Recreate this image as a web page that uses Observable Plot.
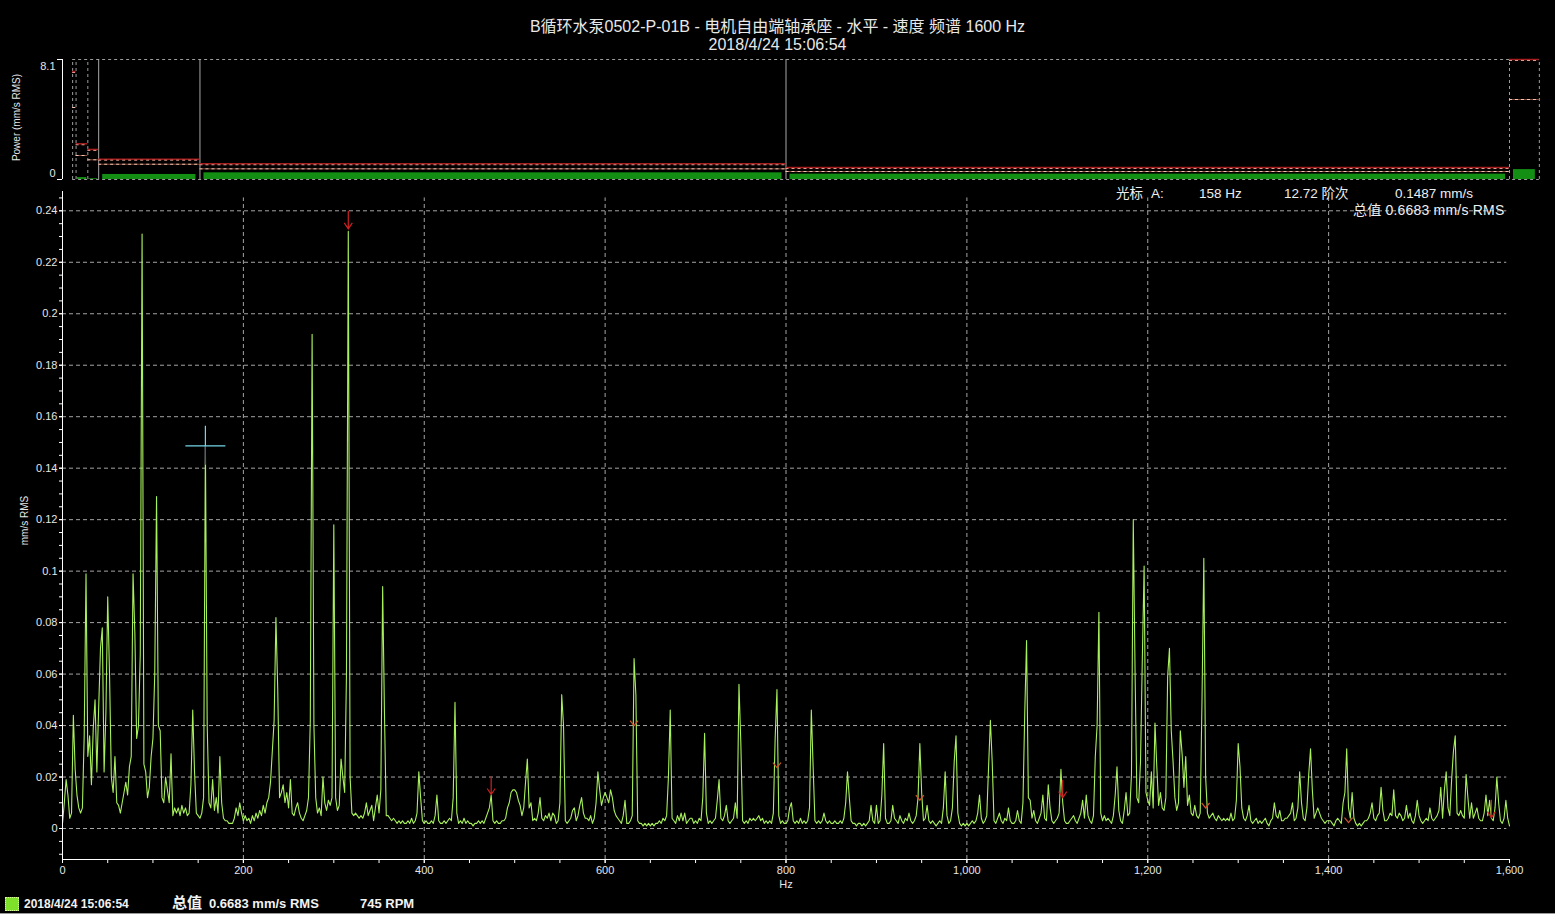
<!DOCTYPE html>
<html><head><meta charset="utf-8">
<script src="https://cdn.jsdelivr.net/npm/d3@7"></script>
<script src="https://cdn.jsdelivr.net/npm/@observablehq/plot@0.6"></script>
<style>
html,body{margin:0;padding:0;background:#000;}
#root{position:relative;width:1555px;height:914px;overflow:hidden;background:#000;font-family:"Liberation Sans",Arial,"Noto Sans CJK SC",sans-serif;color:#e8e8e8;}
.abs{position:absolute;white-space:nowrap;}
.wrap{position:absolute;left:0;}
.wrap svg{display:block;overflow:visible;}
</style></head><body><div id="root">
<div id="titleBox"></div>
<div id="topPanel" class="wrap" style="top:50px;"></div>
<div id="mainPanel" class="wrap" style="top:185px;"></div>
<div id="cursorInfo"></div>
<div id="status"></div>
</div>
<script>
// ---------- data ----------
const titleText = "B循环水泵0502-P-01B - 电机自由端轴承座 - 水平 - 速度 频谱 1600 Hz";
const subtitleText = "2018/4/24 15:06:54";
// band power panel (mm/s RMS)
const bandLo     = [11.2, 15,   28,   40,   152,  800,  1600];
const bandHi     = [15,   28,   40,   152,  800,  1600, 1633];
const bandPower  = [0,    0.13, 0.05, 0.34, 0.45, 0.36, 0.6683];
const bandDanger = [7.29, 2.41, 2.03, 1.37, 1.06, 0.81, 8.1];
const bandWarn   = [4.86, 1.62, 1.33, 1.03, 0.72, 0.54, 5.4];
const edgesSolid  = [40, 152, 800];
const edgesDashed = [11.2, 15, 28, 1600, 1633];
const powerTicks = [0, 8.1];
const powerTickLabels = ["0", "8.1"];

// spectrum: amplitude in 0.001 mm/s RMS, one value per 2 Hz bin, 0..1600 Hz
const binHz = 2;
const ampMilli = [
  2,10,19,13,4,6,44,23,13,8,6,8,36,99,28,36,17,39,50,22,47,70,78,22,45,
  90,60,20,14,28,10,9,6,10,14,18,13,24,28,99,76,35,40,68,231,25,22,12,16,28,
  35,60,129,40,38,12,10,20,15,10,29,5,8,6,8,5,9,6,8,5,6,17,46,22,6,
  5,4,6,12,149,40,10,8,19,7,12,6,28,10,4,3,3,2,2,2,4,8,5,10,6,
  3,5,3,4,2,5,3,6,4,7,5,9,6,10,12,18,30,42,82,54,12,14,17,10,14,
  8,19,6,5,8,10,6,4,3,5,7,12,42,192,40,12,6,8,5,20,10,7,11,9,12,
  118,12,7,9,27,20,14,60,232,20,6,5,6,5,4,5,4,6,10,5,7,9,3,8,13,
  6,15,94,45,5,5,4,3,4,3,2,3,2,3,2,2,3,2,4,2,3,6,22,12,3,
  2,3,2,2,3,2,5,13,3,2,2,3,2,3,4,3,12,49,6,2,3,2,4,2,3,
  2,2,1,2,2,3,2,3,2,4,6,8,13,3,2,3,2,2,3,3,4,8,10,14,15,
  15,14,11,9,5,8,18,27,8,10,3,4,3,6,12,4,3,5,4,6,3,6,5,2,3,
  10,52,40,3,2,3,4,7,8,3,5,9,12,6,4,4,3,5,2,4,10,22,15,9,12,
  14,12,10,15,12,7,5,4,3,2,5,11,2,2,3,5,66,52,3,2,2,1,2,1,2,
  1,2,1,2,2,3,2,4,3,5,20,46,4,3,2,5,3,6,3,6,2,3,4,4,2,
  3,2,4,3,12,37,6,2,3,2,3,4,11,19,4,3,5,9,3,2,3,4,10,4,56,
  34,3,2,3,2,4,3,4,3,4,5,3,4,2,3,2,3,2,6,35,54,5,2,3,2,
  2,3,8,10,3,2,3,2,4,2,3,2,3,8,46,24,3,2,3,2,3,6,3,2,3,
  2,2,3,2,2,3,2,4,10,22,12,3,2,2,1,2,2,1,2,1,2,3,9,3,2,
  9,2,3,13,33,4,2,2,3,9,4,3,2,5,3,2,4,3,6,3,2,3,5,12,33,
  14,3,4,9,3,2,3,2,1,2,3,2,8,22,5,2,3,8,26,36,6,2,1,2,1,
  2,1,2,3,2,3,6,13,4,2,3,5,24,42,26,3,2,4,6,3,2,4,3,8,3,
  2,2,3,7,3,2,10,45,73,12,11,4,7,3,2,4,6,13,4,3,17,8,3,2,3,
  4,6,23,10,3,2,2,3,4,5,3,2,4,6,11,4,13,5,3,2,5,28,40,84,6,
  3,5,3,4,3,2,5,13,24,7,3,2,7,14,5,6,21,120,60,12,10,26,66,102,14,
  11,9,22,8,41,24,9,14,8,7,12,59,70,38,26,12,7,10,38,29,16,28,9,13,6,
  5,9,5,4,6,50,105,20,6,4,5,6,4,3,5,4,3,4,3,4,3,6,3,4,11,
  33,24,8,4,3,5,9,3,2,3,4,2,3,2,3,4,2,1,3,4,10,5,4,7,3,
  3,4,4,5,6,10,3,4,8,22,10,4,3,8,21,31,15,4,6,8,6,4,3,2,3,
  3,3,2,1,3,4,3,2,10,14,31,8,4,14,4,2,1,2,1,2,3,3,4,6,10,
  4,3,5,6,16,7,3,3,4,6,5,15,5,4,6,5,3,4,9,4,6,3,2,5,11,
  5,3,2,3,4,3,8,4,3,4,5,7,16,4,15,22,8,5,19,30,36,6,5,7,5,
  4,21,12,4,10,4,6,8,4,3,3,6,13,5,11,4,3,8,20,10,3,2,4,11,4,
  1
];

// harmonic markers of the 158 Hz cursor
const harmHz   = [316, 474, 632, 790, 948, 1106, 1264, 1422, 1580];
const harmAmp  = [0.233, 0.0132, 0.040, 0.0237, 0.011, 0.012, 0.008, 0.0023, 0.0042];
const harmKind = ["arrow", "arrow", "chevron", "chevron", "chevron", "arrow", "chevron", "chevron", "arrow"];

const cursorHz = 158;
const cursorAmp = 0.1487;

const xTickValues = [0, 200, 400, 600, 800, 1000, 1200, 1400, 1600];
const xTickLabels = ["0", "200", "400", "600", "800", "1,000", "1,200", "1,400", "1,600"];
const yTickValues = [0, 0.02, 0.04, 0.06, 0.08, 0.1, 0.12, 0.14, 0.16, 0.18, 0.2, 0.22, 0.24];
const yTickLabels = ["0", "0.02", "0.04", "0.06", "0.08", "0.1", "0.12", "0.14", "0.16", "0.18", "0.2", "0.22", "0.24"];
const xGridValues = [200, 400, 600, 800, 1000, 1200, 1400];

const cursorLine1 = [["光标", 1116], ["A:", 1151], ["158 Hz", 1199], ["12.72 阶次", 1284], ["0.1487 mm/s", 1395]];
const cursorLine2 = "总值 0.6683 mm/s RMS";
const statusDate = "2018/4/24 15:06:54";
const statusTotalLabel = "总值";
const statusTotal = "0.6683 mm/s RMS";
const statusRpm = "745 RPM";

// ---------- build ----------
const font = '"Liberation Sans", Arial, "Noto Sans CJK SC", sans-serif';
document.getElementById("titleBox").innerHTML = `
<div class="abs" style="left:0;width:1555px;top:18px;text-align:center;font-size:16px;line-height:18px;">${titleText}</div>
<div class="abs" style="left:0;width:1555px;top:36px;text-align:center;font-size:16px;line-height:18px;">${subtitleText}</div>`;

const bands = bandLo.map((lo, i) => ({lo, hi: bandHi[i], power: bandPower[i], danger: bandDanger[i], warn: bandWarn[i]}));
const wideBands = bands.filter(d => d.hi - d.lo > 30);
const narrowBands = bands.filter(d => d.hi - d.lo <= 30);

const topPlot = Plot.plot({
  width: 1555, height: 135,
  marginLeft: 62, marginRight: 46, marginTop: 9, marginBottom: 6,
  x: {domain: [0, 1600], axis: null},
  y: {domain: [0, 8.1], axis: null},
  style: {background: "transparent", color: "#e6e6e6", fontFamily: font, fontSize: "11px", overflow: "visible"},
  marks: [
    Plot.rect(wideBands, {x1: "lo", x2: "hi", y1: 0, y2: "power", fill: "#139013", insetLeft: 4, insetRight: 4}),
    Plot.rect(narrowBands, {x1: "lo", x2: "hi", y1: 0, y2: "power", fill: "#139013", insetLeft: 1, insetRight: 1}),
    Plot.ruleY([0, 8.1], {x1: 11.2, x2: 1633, stroke: "#9c9c9c", strokeDasharray: "3,3"}),
    Plot.ruleX(edgesDashed, {y1: 0, y2: 8.1, stroke: "#9c9c9c", strokeDasharray: "3,3"}),
    Plot.ruleX(edgesSolid, {y1: 0, y2: 8.1, stroke: "#a8a8a8"}),
    Plot.ruleY(bands, {x1: "lo", x2: "hi", y: "warn", stroke: "#8a4a3c"}),
    Plot.ruleY(bands, {x1: "lo", x2: "hi", y: "warn", stroke: "#f0c4b0", strokeDasharray: "3,3"}),
    Plot.ruleY(bands, {x1: "lo", x2: "hi", y: "danger", stroke: "#a81e1e", strokeWidth: 1.5}),
    Plot.ruleY(bands, {x1: "lo", x2: "hi", y: "danger", dy: 1, stroke: "#e09a8c", strokeDasharray: "3,3"}),
    Plot.ruleX([0], {y1: 0, y2: 8.1, stroke: "#ffffff"}),
    Plot.axisY({ticks: powerTicks, tickSize: 5, tickFormat: () => "", label: null, stroke: "#ffffff"}),
    Plot.axisY({ticks: [powerTicks[1]], tickSize: 0, tickPadding: 7, dy: 7, label: null, fill: "#e6e6e6",
      tickFormat: d => powerTickLabels[powerTicks.indexOf(d)]}),
    Plot.axisY({ticks: [powerTicks[0]], tickSize: 0, tickPadding: 7, dy: -6, label: null, fill: "#e6e6e6",
      tickFormat: d => powerTickLabels[powerTicks.indexOf(d)]}),
    Plot.text(["Power (mm/s RMS)"], {frameAnchor: "left", textAnchor: "middle", rotate: -90, dx: -46, dy: -2, fontSize: 10, fill: "#e6e6e6"})
  ]
});
document.getElementById("topPanel").appendChild(topPlot);

const spectrum = ampMilli.map((a, i) => ({hz: i * binHz, amp: a / 1000}));
const harmonics = harmHz.map((hz, i) => ({hz, amp: harmAmp[i], kind: harmKind[i]}));
const yMin = -0.01204, yMax = 0.2475;

const arrowSymbol = {draw(ctx) { ctx.moveTo(0, -18); ctx.lineTo(0, 0); ctx.moveTo(-4, -6); ctx.lineTo(0, 0); ctx.lineTo(4, -6); }};
const chevronSymbol = {draw(ctx) { ctx.moveTo(-4, -5); ctx.lineTo(0, 0); ctx.lineTo(4, -5); }};
const crossSymbol = {draw(ctx) { ctx.moveTo(-20, 0); ctx.lineTo(20, 0); ctx.moveTo(0, -20); ctx.lineTo(0, 0); }};
const crossLowerSymbol = {draw(ctx) { ctx.moveTo(0, 0); ctx.lineTo(0, 19); }};

const mainPlot = Plot.plot({
  width: 1555, height: 710,
  marginLeft: 62, marginRight: 46, marginTop: 6, marginBottom: 36,
  x: {domain: [0, 1600], axis: null},
  y: {domain: [yMin, yMax], axis: null},
  style: {background: "transparent", color: "#e6e6e6", fontFamily: font, fontSize: "11px", overflow: "visible"},
  marks: [
    Plot.ruleY(yTickValues, {stroke: "#a4a4a4", strokeDasharray: "4,3", x1: 0, x2: 1597}),
    Plot.ruleX(xGridValues, {stroke: "#a4a4a4", strokeDasharray: "4,3", y1: yMin, y2: 0.245}),
    Plot.line(spectrum, {x: "hz", y: "amp", stroke: "#a8f05c", strokeWidth: 1.1}),
    Plot.ruleX([0], {y1: yMin, y2: yMax, stroke: "#ffffff"}),
    Plot.ruleY([yMin], {x1: 0, x2: 1600, stroke: "#ffffff"}),
    Plot.axisX({ticks: d3.range(0, 1601, 50), tickSize: 4, tickFormat: () => "", label: null, stroke: "#ffffff"}),
    Plot.axisX({ticks: xTickValues, tickSize: 4, tickPadding: 3, label: null, fill: "#e6e6e6", stroke: "#ffffff",
      tickFormat: d => xTickLabels[xTickValues.indexOf(d)]}),
    Plot.axisY({ticks: d3.range(-0.01, 0.2451, 0.005), tickSize: 3, tickFormat: () => "", label: null, stroke: "#ffffff"}),
    Plot.axisY({ticks: yTickValues, tickSize: 3, tickPadding: 2, label: null, fill: "#e6e6e6", stroke: "#ffffff",
      tickFormat: d => yTickLabels[yTickValues.indexOf(d)]}),
    Plot.text(["Hz"], {frameAnchor: "bottom", dy: 28, fill: "#e6e6e6", fontSize: 11}),
    Plot.text(["mm/s RMS"], {frameAnchor: "left", textAnchor: "middle", rotate: -90, dx: -38, dy: -5, fill: "#e6e6e6", fontSize: 10}),
    Plot.dot(harmonics.filter(d => d.kind === "arrow"), {x: "hz", y: "amp", symbol: arrowSymbol, fill: "none", stroke: "#cc2222", strokeWidth: 1.2}),
    Plot.dot(harmonics.filter(d => d.kind === "chevron"), {x: "hz", y: "amp", symbol: chevronSymbol, fill: "none", stroke: "#d2542e", strokeWidth: 1.2}),
    Plot.dot([{hz: cursorHz, amp: cursorAmp}], {x: "hz", y: "amp", symbol: crossLowerSymbol, fill: "none", stroke: "#6b3ec4", strokeWidth: 1.2}),
    Plot.dot([{hz: cursorHz, amp: cursorAmp}], {x: "hz", y: "amp", symbol: crossSymbol, fill: "none", stroke: "#74d6e8", strokeWidth: 1.2})
  ]
});
document.getElementById("mainPanel").appendChild(mainPlot);

// cursor readout
const ci = document.getElementById("cursorInfo");
cursorLine1.forEach(([t, x]) => {
  const d = document.createElement("div");
  d.className = "abs"; d.textContent = t;
  d.style.cssText = `left:${x}px;top:186px;font-size:13.5px;line-height:16px;color:#eeeeee;`;
  ci.appendChild(d);
});
{
  const d = document.createElement("div");
  d.className = "abs"; d.textContent = cursorLine2;
  d.style.cssText = "left:1353px;top:202px;font-size:14px;line-height:17px;color:#eeeeee;letter-spacing:0.2px;";
  ci.appendChild(d);
}

// status bar
const st = document.getElementById("status");
st.innerHTML = `
<div class="abs" style="left:5px;top:897px;width:12px;height:12px;background:#7fe02c;border:1px dotted #d4ff90;"></div>
<div class="abs" style="left:24px;top:896px;font-size:12px;line-height:16px;font-weight:bold;color:#f2f2f2;">${statusDate}</div>
<div class="abs" style="left:172px;top:894px;font-size:15px;line-height:18px;font-weight:bold;color:#f2f2f2;">${statusTotalLabel}</div>
<div class="abs" style="left:209px;top:896px;font-size:13px;line-height:16px;font-weight:bold;color:#f2f2f2;">${statusTotal}</div>
<div class="abs" style="left:360px;top:896px;font-size:13px;line-height:16px;font-weight:bold;color:#f2f2f2;">${statusRpm}</div>
<div class="abs" style="left:0;top:913px;width:1555px;height:1px;background:#9a9a9a;"></div>`;
</script></body></html>
